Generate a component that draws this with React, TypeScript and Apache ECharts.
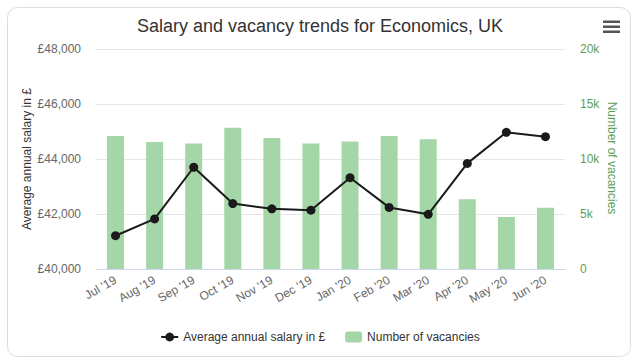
import React, { useEffect, useRef } from "react";
import * as echarts from "echarts";

const categories = ["Jul '19", "Aug '19", "Sep '19", "Oct '19", "Nov '19", "Dec '19", "Jan '20", "Feb '20", "Mar '20", "Apr '20", "May '20", "Jun '20"];
const salary = [41210, 41820, 43700, 42380, 42190, 42140, 43320, 42240, 41990, 43840, 44970, 44810];
const vacancies = [12100, 11550, 11400, 12850, 11900, 11400, 11600, 12100, 11800, 6350, 4730, 5570];
const salaryTicks = { min: 40000, max: 48000, interval: 2000 };
const vacancyTicks = { min: 0, max: 20000, interval: 5000 };
const salaryAxisName = "Average annual salary in £";
const vacancyAxisName = "Number of vacancies";

const FONT = "'Liberation Sans', Arial, Helvetica, sans-serif";

function withCommas(v: number): string {
  return String(Math.round(v)).replace(/\B(?=(\d{3})+(?!\d))/g, ",");
}

export default function App() {
  const ref = useRef<HTMLDivElement>(null);
  useEffect(() => {
    if (!ref.current) return;
    const chart = echarts.init(ref.current, undefined, { renderer: "svg" });
    chart.setOption({
      animation: false,
      textStyle: { fontFamily: FONT },
      title: {
        text: "Salary and vacancy trends for Economics, UK",
        left: "center",
        top: 12,
        textStyle: { fontFamily: FONT, fontSize: 18, fontWeight: "normal", color: "#333333" },
      },
      legend: {
        left: "center",
        top: 326,
        itemWidth: 17,
        itemHeight: 11,
        itemGap: 20,
        textStyle: { fontFamily: FONT, fontSize: 12, color: "#333333" },
        data: [salaryAxisName, vacancyAxisName],
      },
      grid: { left: 96, right: 75, top: 49, bottom: 94 },
      xAxis: {
        type: "category",
        data: categories,
        boundaryGap: true,
        axisLine: { lineStyle: { color: "#ccd6eb" } },
        axisTick: { alignWithLabel: true, length: 6, lineStyle: { color: "#ccd6eb" } },
        axisLabel: { rotate: 30, fontSize: 12, color: "#666666", margin: 10, fontFamily: FONT, interval: 0 },
      },
      yAxis: [
        {
          type: "value",
          ...salaryTicks,
          axisLine: { show: false },
          axisTick: { show: false },
          splitLine: { lineStyle: { color: "#e6e6e6" } },
          axisLabel: { formatter: (v: number) => "£" + withCommas(v), fontSize: 12, color: "#666666", margin: 15, fontFamily: FONT },
        },
        {
          type: "value",
          ...vacancyTicks,
          position: "right",
          axisLine: { show: false },
          axisTick: { show: false },
          splitLine: { show: false },
          axisLabel: {
            formatter: (v: number) => (v === 0 ? "0" : v / 1000 + "k"),
            fontSize: 12,
            color: "#5a9e5a",
            margin: 15,
            fontFamily: FONT,
          },
        },
      ],
      series: [
        {
          name: vacancyAxisName,
          type: "bar",
          yAxisIndex: 1,
          data: vacancies,
          barWidth: 17,
          itemStyle: { color: "#a5d6a7" },
          z: 1,
        },
        {
          name: salaryAxisName,
          type: "line",
          yAxisIndex: 0,
          data: salary,
          symbol: "circle",
          symbolSize: 9,
          lineStyle: { color: "#1a1a1a", width: 2 },
          itemStyle: { color: "#1a1a1a" },
          z: 3,
        },
      ],
      graphic: [
        {
          type: "rect",
          z: -10,
          silent: true,
          shape: { x: 7.5, y: 7.5, width: 623, height: 349, r: 10 },
          style: { fill: "#ffffff", stroke: "#dddddd", lineWidth: 1 },
        },
        {
          type: "text",
          x: 27,
          y: 159,
          rotation: Math.PI / 2,
          style: { text: salaryAxisName, font: "12px " + FONT, fill: "#333333", align: "center", verticalAlign: "middle" },
        },
        {
          type: "text",
          x: 612,
          y: 158,
          rotation: -Math.PI / 2,
          style: { text: vacancyAxisName, font: "12px " + FONT, fill: "#5a9e5a", align: "center", verticalAlign: "middle" },
        },
        { type: "rect", shape: { x: 603, y: 20.5, width: 17, height: 2.5 }, style: { fill: "#555555" } },
        { type: "rect", shape: { x: 603, y: 25.5, width: 17, height: 2.5 }, style: { fill: "#555555" } },
        { type: "rect", shape: { x: 603, y: 30.5, width: 17, height: 2.5 }, style: { fill: "#555555" } },
      ],
    });
    return () => chart.dispose();
  }, []);
  return <div ref={ref} style={{ position: "fixed", left: 0, top: 0, width: 640, height: 363, background: "#ffffff" }} />;
}
